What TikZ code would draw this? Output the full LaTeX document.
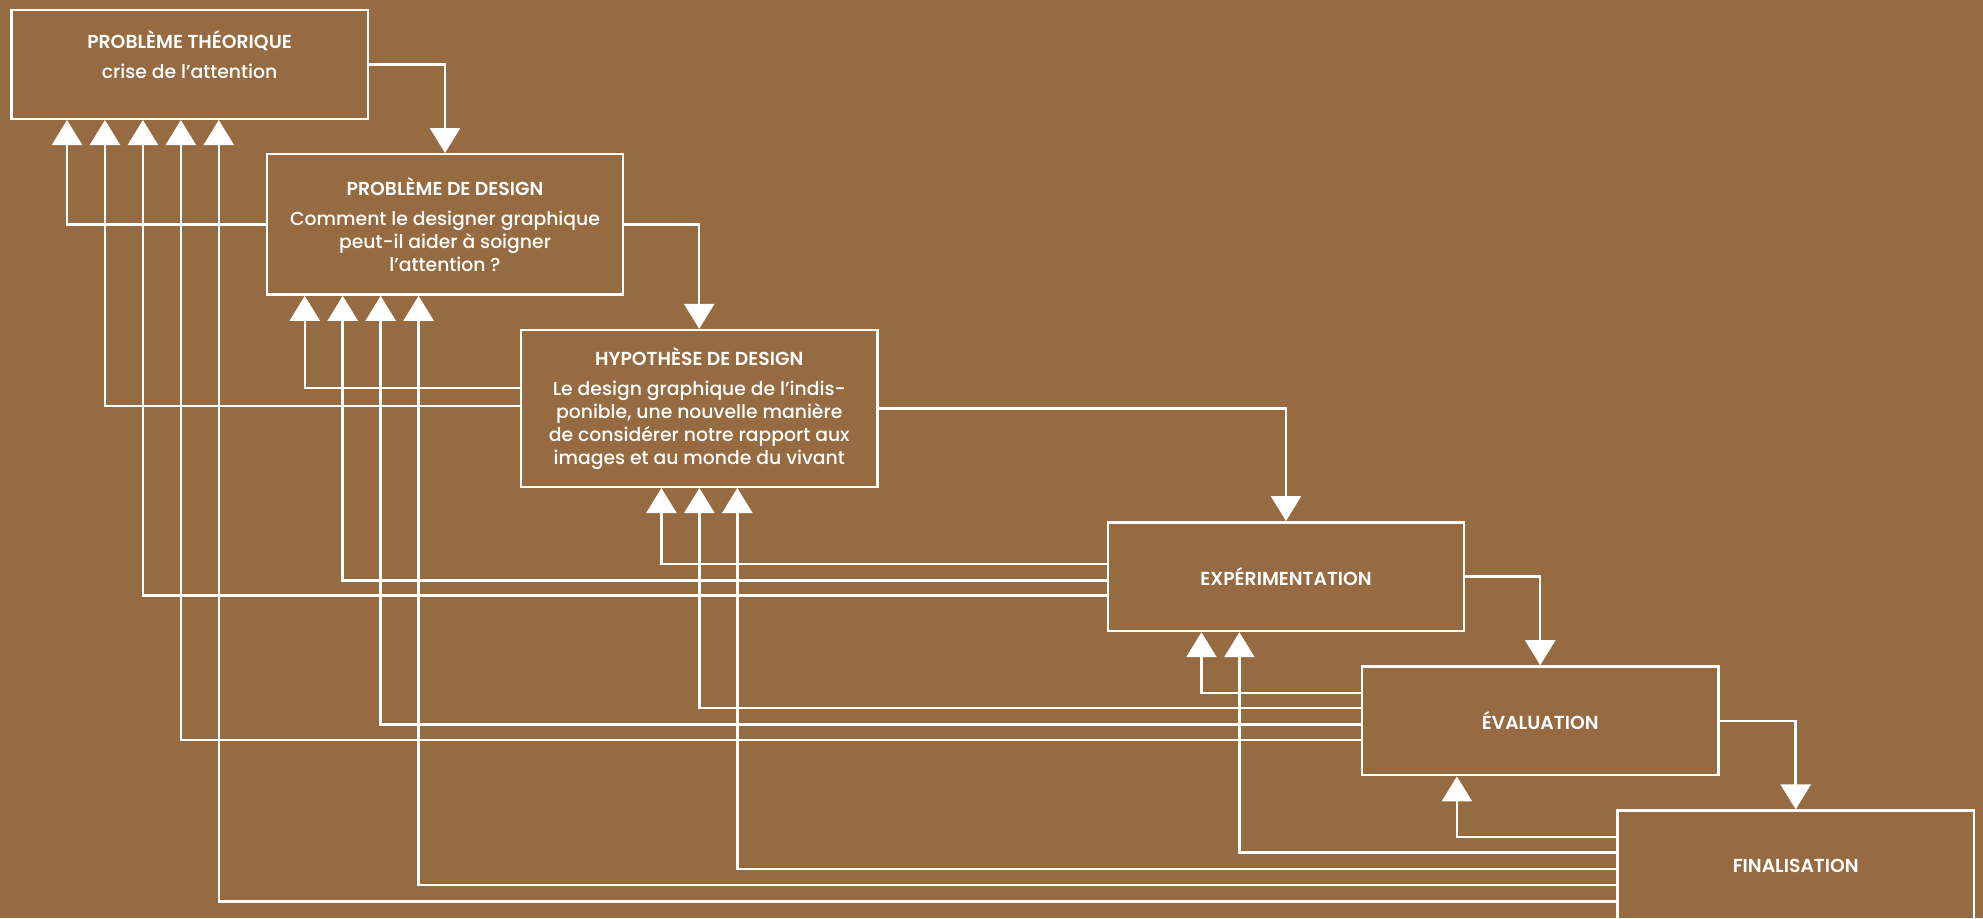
\documentclass[tikz,border=0pt]{standalone}
\usepackage{fontspec}
\setmainfont{Poppins}[UprightFont={* Medium}, BoldFont={* SemiBold}]
\usetikzlibrary{arrows.meta,calc}
\definecolor{bgbrown}{RGB}{151,107,65}
\newcommand{\stagetitle}[1]{{\bfseries\fontsize{10.7}{12}\selectfont #1}}

\begin{document}
\begin{tikzpicture}[
    x=0.025294cm, y=-0.025294cm,
    stagebox/.style={draw=white, line width=1.4pt, anchor=north west,
      minimum width=7.13cm, minimum height=2.175cm, inner sep=0pt,
      align=center, text=white, font=\fontsize{10.7}{13}\selectfont},
    fwd/.style={draw=white, line width=1.4pt,
      -{Triangle[length=0.5cm,width=0.6cm]}},
    back/.style={fwd}
  ]
  \fill[bgbrown] (0,0) rectangle (1568,726);
  \useasboundingbox (0,0) rectangle (1568,726);

  \node[stagebox, text depth=11.5pt] (pt) at (8,7)
    {\stagetitle{PROBLÈME THÉORIQUE}\\[4.3pt] crise de l’attention};
  \node[stagebox, minimum height=2.808cm] (pd) at (210,121)
    {\stagetitle{PROBLÈME DE DESIGN}\\[4.3pt] Comment le designer graphique\\
     peut-il aider à soigner\\ l’attention ?};
  \node[stagebox, minimum height=3.136cm] (hd) at (411,260)
    {\stagetitle{HYPOTHÈSE DE DESIGN}\\[4pt] Le design graphique de l’indis-\\
     ponible, une nouvelle manière\\ de considérer notre rapport aux\\
     images et au monde du vivant};
  \node[stagebox] (exp) at (875,412) {\stagetitle{EXPÉRIMENTATION}};
  \node[stagebox] (eva) at (1076,526) {\stagetitle{ÉVALUATION}};
  \node[stagebox, minimum height=2.226cm] (fin) at (1278,640)
    {\stagetitle{FINALISATION}};

  % forward steps
  \draw[fwd] (pt) -| (pd);
  \draw[fwd] (pd) -| (hd);
  \draw[fwd] (hd) -| (exp);
  \draw[fwd] (exp) -| (eva);
  \draw[fwd] (eva) -| (fin);

  % feedback loops
  \draw[back] (pd.west) -| ($(pt.south west)+(45,0)$);
  \draw[back] ($(hd.west)+(0,-16)$) -| ($(pd.south west)+(31,0)$);
  \draw[back] ($(hd.west)+(0,-2)$) -| ($(pt.south west)+(75,0)$);
  \draw[back] ($(exp.west)+(0,-10)$) -| ($(hd.south west)+(112,0)$);
  \draw[back] ($(exp.west)+(0,3)$) -| ($(pd.south west)+(61,0)$);
  \draw[back] ($(exp.west)+(0,15)$) -| ($(pt.south west)+(105,0)$);
  \draw[back] ($(eva.west)+(0,-22)$) -| ($(exp.south west)+(75,0)$);
  \draw[back] ($(eva.west)+(0,-10)$) -| ($(hd.south west)+(142,0)$);
  \draw[back] ($(eva.west)+(0,3)$) -| ($(pd.south west)+(91,0)$);
  \draw[back] ($(eva.west)+(0,15)$) -| ($(pt.south west)+(135,0)$);
  \draw[back] ($(fin.west)+(0,-23)$) -| ($(eva.south west)+(76,0)$);
  \draw[back] ($(fin.west)+(0,-11)$) -| ($(exp.south west)+(105,0)$);
  \draw[back] ($(fin.west)+(0,2)$) -| ($(hd.south west)+(172,0)$);
  \draw[back] ($(fin.west)+(0,15)$) -| ($(pd.south west)+(121,0)$);
  \draw[back] ($(fin.west)+(0,28)$) -| ($(pt.south west)+(165,0)$);
\end{tikzpicture}
\end{document}
